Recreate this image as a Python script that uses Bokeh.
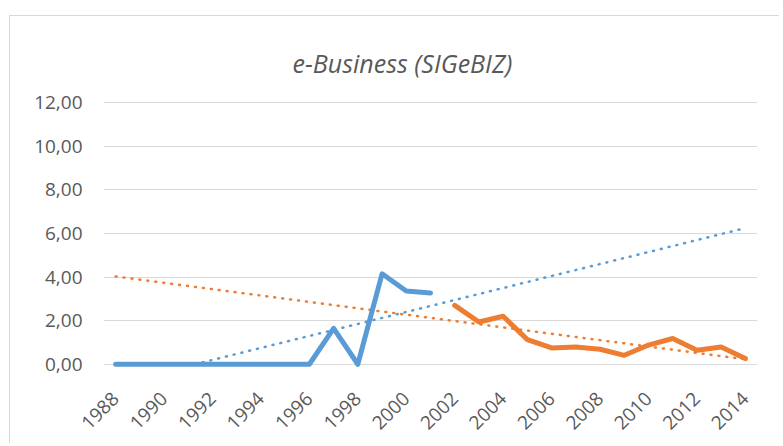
import numpy as np
from bokeh.plotting import figure
from bokeh.models import FixedTicker, Range1d
from bokeh.embed import file_html
from bokeh.resources import INLINE
from math import pi

# ---- data ----
years_blue = [1988, 1989, 1990, 1991, 1992, 1993, 1994, 1995, 1996, 1997, 1998, 1999, 2000, 2001]
values_blue = [0, 0, 0, 0, 0, 0, 0, 0, 0, 1.65, 0, 4.15, 3.36, 3.27]
years_orange = [2002, 2003, 2004, 2005, 2006, 2007, 2008, 2009, 2010, 2011, 2012, 2013, 2014]
values_orange = [2.70, 1.94, 2.20, 1.13, 0.75, 0.79, 0.69, 0.41, 0.88, 1.18, 0.64, 0.79, 0.26]
x_ticks = [1988, 1990, 1992, 1994, 1996, 1998, 2000, 2002, 2004, 2006, 2008, 2010, 2012, 2014]
y_ticks = [0, 2, 4, 6, 8, 10, 12]
y_tick_labels = ["0,00", "2,00", "4,00", "6,00", "8,00", "10,00", "12,00"]
title_text = "e-Business (SIGeBIZ)"

BLUE = "#5B9BD5"
ORANGE = "#ED7D31"
TXT = "#595959"
GRID = "#D9D9D9"
FONT = "Open Sans"

p = figure(width=770, height=428, output_backend="svg", toolbar_location=None,
           x_range=Range1d(1987.5, 2014.5), y_range=Range1d(-1.25, 12.1),
           min_border_left=93, min_border_right=23, min_border_top=84, min_border_bottom=53,
           title=title_text,
           styles={"margin-left": "9px", "margin-top": "15px",
                   "border-left": "1px solid #D9D9D9", "border-top": "1px solid #D9D9D9"})
p.outline_line_color = None
p.background_fill_color = "white"
p.border_fill_color = "white"

p.title.align = "left"
p.title.offset = 189
p.title.text_font = FONT
p.title.text_font_style = "italic"
p.title.text_font_size = "25px"
p.title.text_color = TXT
p.title.standoff = 41

# axes
p.xaxis.ticker = FixedTicker(ticks=x_ticks)
p.xaxis.major_label_orientation = pi / 4
p.xaxis.axis_line_color = None
p.xaxis.major_tick_line_color = None
p.xaxis.major_tick_out = 0
p.xaxis.major_tick_in = 0
p.xaxis.minor_tick_line_color = None
p.xaxis.major_label_text_font = FONT
p.xaxis.major_label_text_font_size = "19px"
p.xaxis.major_label_text_color = TXT
p.xaxis.major_label_standoff = 4

p.yaxis.ticker = FixedTicker(ticks=y_ticks)
p.yaxis.major_label_overrides = {t: lab for t, lab in zip(y_ticks, y_tick_labels)}
p.yaxis.axis_line_color = None
p.yaxis.major_tick_line_color = None
p.yaxis.major_tick_out = 0
p.yaxis.major_tick_in = 0
p.yaxis.minor_tick_line_color = None
p.yaxis.major_label_text_font = FONT
p.yaxis.major_label_text_font_size = "19px"
p.yaxis.major_label_text_color = TXT
p.yaxis.major_label_standoff = 21

p.xgrid.grid_line_color = None
p.ygrid.ticker = FixedTicker(ticks=y_ticks)
p.ygrid.grid_line_color = GRID
p.ygrid.grid_line_width = 1

# trendlines (linear least squares, as Excel)
mb, bb = np.polyfit(years_blue, values_blue, 1)
x0 = max(-bb / mb, 1987.5)
tb_x = [x0, 2014]
tb_y = [mb * x + bb for x in tb_x]
mo, bo = np.polyfit(years_orange, values_orange, 1)
to_x = [1988, 2014]
to_y = [mo * x + bo for x in to_x]

p.line(tb_x, tb_y, line_color=BLUE, line_width=2.5, line_dash="1 7", line_cap="round")
p.line(to_x, to_y, line_color=ORANGE, line_width=2.5, line_dash="1 7", line_cap="round")

p.line(years_blue, values_blue, line_color=BLUE, line_width=5, line_join="round", line_cap="round")
p.line(years_orange, values_orange, line_color=ORANGE, line_width=5, line_join="round", line_cap="round")

open("out.html", "w").write(file_html(p, INLINE))
